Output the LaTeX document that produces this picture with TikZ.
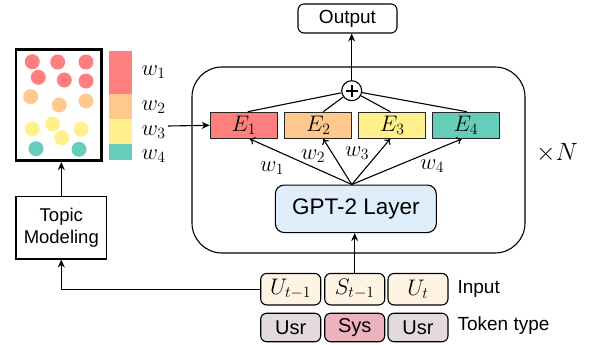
\RequirePackage{fix-cm}
\documentclass[tikz,border=0pt]{standalone}
\usepackage{fontspec}
\setmainfont{Liberation Sans}
\usetikzlibrary{arrows.meta}
\definecolor{cred}{HTML}{FF7F7F}
\definecolor{corange}{HTML}{FFC88C}
\definecolor{cyellow}{HTML}{FFF08C}
\definecolor{cteal}{HTML}{66CDBB}
\definecolor{cgpt}{HTML}{E0EEFB}
\definecolor{cinput}{HTML}{FFF4E3}
\definecolor{cusr}{HTML}{E2DADC}
\definecolor{csys}{HTML}{ECB3BE}
\begin{document}
\begin{tikzpicture}[x=1pt,y=-1pt,line width=1.1pt,
  ebox/.style={draw=black!85,line width=1.2pt,minimum width=67pt,minimum height=26pt,inner sep=0pt,font=\fontsize{22.5}{22.5}\selectfont},
  rbox/.style={draw=black,line width=1.1pt,rounded corners=6pt,inner sep=0pt},
  inbox/.style={rbox,fill=cinput,minimum width=60pt,minimum height=31.5pt,font=\fontsize{22.5}{22.5}\selectfont},
  tokbox/.style={rbox,minimum width=60pt,minimum height=28.5pt,font=\fontsize{20}{20}\selectfont},
  lbl/.style={anchor=west,inner sep=0pt,font=\fontsize{19}{19}\selectfont},
  wlbl/.style={inner sep=0pt,font=\fontsize{22.5}{22.5}\selectfont},
  dot/.style={circle,inner sep=0pt,minimum size=15pt},
  fillarrow/.style={-{Stealth[length=8pt,width=7pt]}},
  thinarrow/.style={-{To[length=5pt,width=8pt]}}]
\useasboundingbox (0,0) rectangle (589,345);

% big block
\node[draw,line width=1.1pt,rounded corners=30pt,minimum width=333pt,minimum height=186pt] (block) at (358.5,160) {};
\node[inner sep=0pt,font=\fontsize{25}{25}\selectfont] (timesN) at (557,153) {$\times N$};

% output and plus
\node[rbox,minimum width=99pt,minimum height=29pt,font=\fontsize{19}{19}\selectfont] (output) at (347.5,18.5) {Output};
\node[draw,circle,fill=white,minimum size=20pt,inner sep=0pt,line width=1.1pt] (plus) at (351.7,90.7) {};
\draw[line width=1.8pt] ([xshift=-6pt]plus.center) -- ([xshift=6pt]plus.center);
\draw[line width=1.8pt] ([yshift=-6pt]plus.center) -- ([yshift=6pt]plus.center);
\draw[fillarrow] (plus.north) -- (plus.north |- output.south);

% E boxes
\node[ebox,fill=cred] (E1) at (243.8,125.3) {$E_1$};
\node[ebox,fill=corange] (E2) at (318.3,125.3) {$E_2$};
\node[ebox,fill=cyellow] (E3) at (392.2,125.3) {$E_3$};
\node[ebox,fill=cteal] (E4) at (465.8,125.3) {$E_4$};
\draw (plus) -- ([xshift=4pt]E1.north);
\draw (plus) -- ([xshift=5pt]E2.north);
\draw (plus) -- ([xshift=-2pt]E3.north);
\draw (plus) -- ([xshift=1pt]E4.north);

% GPT-2 layer
\node[rbox,rounded corners=9pt,fill=cgpt,minimum width=161pt,minimum height=47.5pt,font=\fontsize{22.5}{22.5}\selectfont] (gpt) at (355.8,208.8) {GPT-2 Layer};
\coordinate (g) at ([xshift=-4pt]gpt.north);
\draw[thinarrow] (g) -- ([xshift=6pt]E1.south);
\draw[thinarrow] (g) -- ([xshift=5pt]E2.south);
\draw[thinarrow] (g) -- ([xshift=-2pt]E3.south);
\draw[thinarrow] (g) -- ([xshift=-4pt]E4.south);
\node[wlbl] (lw1) at (272,168) {$w_1$};
\node[wlbl] (lw2) at (313,156) {$w_2$};
\node[wlbl] (lw3) at (357,153) {$w_3$};
\node[wlbl] (lw4) at (432,166) {$w_4$};

% input rows
\node[inbox] (u1) at (290.7,289.2) {$U_{t-1}$};
\node[inbox] (s1) at (354.7,289.2) {$S_{t-1}$};
\node[inbox] (u2) at (418.0,289.2) {$U_t$};
\node[tokbox,fill=cusr] (t1) at (290.7,327.5) {Usr};
\node[tokbox,fill=csys] (t2) at (354.7,327.5) {Sys};
\node[tokbox,fill=cusr] (t3) at (418.0,327.5) {Usr};
\node[lbl] (inlbl) at (457,289) {Input};
\node[lbl] (toklbl) at (457,326) {Token type};
\draw[fillarrow] (s1.north) -- (s1.north |- gpt.south);

% topic modeling
\node[draw,line width=1.1pt,minimum width=90.7pt,minimum height=62.3pt,align=center,inner sep=0pt,font=\fontsize{18.5}{22}\selectfont] (topic) at (61.3,227.8) {Topic\\Modeling};
\draw[fillarrow] (u1.west) -| (topic.south);

% topic image
\node[draw,line width=2.8pt,minimum width=85.7pt,minimum height=111.4pt,inner sep=0pt] (frame) at (58.8,105) {};
\draw[fillarrow] (topic.north) -- (topic.north |- frame.south);
\node[dot,fill=cred] (d1) at (32.3,61.7) {};
\node[dot,fill=cred] (d2) at (57.7,62) {};
\node[dot,fill=cred] (d3) at (86,62) {};
\node[dot,fill=cred] (d4) at (38.3,77.3) {};
\node[dot,fill=cred] (d5) at (64.3,80) {};
\node[dot,fill=cred] (d6) at (86,81) {};
\node[dot,fill=corange] (d7) at (30.7,96.7) {};
\node[dot,fill=corange] (d8) at (59.3,105) {};
\node[dot,fill=corange] (d9) at (86,101) {};
\node[dot,fill=cyellow] (d10) at (32.3,129) {};
\node[dot,fill=cyellow] (d11) at (52.7,124) {};
\node[dot,fill=cyellow] (d12) at (61.7,137.7) {};
\node[dot,fill=cyellow] (d13) at (81,129.3) {};
\node[dot,fill=cteal] (d14) at (36,148.7) {};
\node[dot,fill=cteal] (d15) at (79,149.3) {};

% color bar
\fill[cred] (109,50.7) rectangle (132.3,94.3);
\fill[corange] (109,94.3) rectangle (132.3,119.3);
\fill[cyellow] (109,119.3) rectangle (132.3,144.3);
\fill[cteal] (109,144.3) rectangle (132.3,160);
\node[wlbl,anchor=west] (bw1) at (141,72) {$w_1$};
\node[wlbl,anchor=west] (bw2) at (141,107) {$w_2$};
\node[wlbl,anchor=west] (bw3) at (141,132) {$w_3$};
\node[wlbl,anchor=west] (bw4) at (141,156) {$w_4$};
\coordinate (src) at (168,126);
\draw[fillarrow] (src) -- (E1.west);
\end{tikzpicture}
\end{document}
